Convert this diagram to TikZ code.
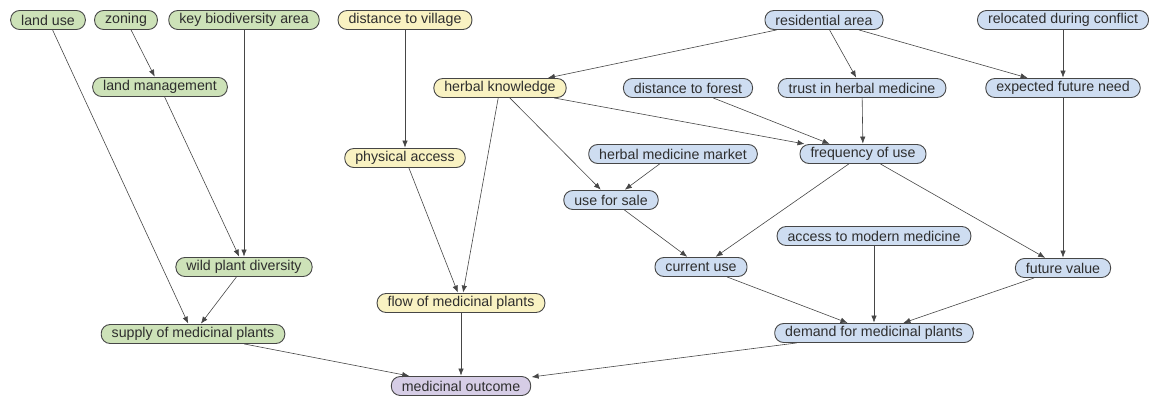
\documentclass[tikz,border=0pt]{standalone}
\usepackage{fontspec}
\setmainfont{Liberation Sans}
\usetikzlibrary{arrows.meta}
\definecolor{gfill}{HTML}{CDE2B8}
\definecolor{yfill}{HTML}{F9F2C2}
\definecolor{bfill}{HTML}{CEDDF1}
\definecolor{pfill}{HTML}{D6CDE6}
\definecolor{edgec}{HTML}{464646}
\begin{document}
\begin{tikzpicture}[x=1pt,y=-1pt,
  nd/.style={draw=edgec, line width=0.9pt, rounded corners=9pt, minimum height=19pt, inner xsep=10.5pt, inner ysep=1pt, font=\fontsize{14.2}{15}\selectfont, text=black!82},
  gn/.style={nd, fill=gfill},
  yn/.style={nd, fill=yfill},
  bn/.style={nd, fill=bfill},
  pn/.style={nd, fill=pfill},
  ar/.style={draw=edgec, line width=0.6pt, -{Latex[length=7pt,width=5.5pt]}, shorten >=0.5pt}]
\useasboundingbox (0,0) rectangle (1153,399);
% green
\node[gn] (landuse) at (48,20) {land use};
\node[gn] (zoning) at (126,20) {zoning};
\node[gn] (kba) at (244,20) {key biodiversity area};
\node[gn] (landman) at (160,87) {land management};
\node[gn] (wpd) at (244,267) {wild plant diversity};
\node[gn] (supply) at (193,334) {supply of medicinal plants};
% yellow
\node[yn] (dvillage) at (405,20) {distance to village};
\node[yn] (hk) at (500,88) {herbal knowledge};
\node[yn] (pa) at (405,158) {physical access};
\node[yn] (flow) at (461,303) {flow of medicinal plants};
% blue
\node[bn] (res) at (824,20) {residential area};
\node[bn] (reloc) at (1063,20) {relocated during conflict};
\node[bn] (dforest) at (688,88) {distance to forest};
\node[bn] (trust) at (862,88) {trust in herbal medicine};
\node[bn] (efn) at (1063,88) {expected future need};
\node[bn] (hmm) at (673,154) {herbal medicine market};
\node[bn] (freq) at (863,154) {frequency of use};
\node[bn] (sale) at (611,200) {use for sale};
\node[bn] (amm) at (874,236) {access to modern medicine};
\node[bn] (cur) at (701,267) {current use};
\node[bn] (fv) at (1063,268) {future value};
\node[bn] (demand) at (874,333) {demand for medicinal plants};
% purple
\node[pn] (outcome) at (461,386) {medicinal outcome};
% edges
\draw[ar] (landuse) -- (supply);
\draw[ar] (zoning) -- (landman);
\draw[ar] (kba) -- (wpd);
\draw[ar] (landman) -- (wpd);
\draw[ar] (wpd) -- (supply);
\draw[ar] (supply) -- (outcome);
\draw[ar] (dvillage) -- (pa);
\draw[ar] (pa) -- ([xshift=-3pt]flow.north);
\draw[ar] (hk) -- ([xshift=2pt]flow.north);
\draw[ar] (flow) -- (outcome);
\draw[ar] (res) -- (hk);
\draw[ar] (res) -- (trust);
\draw[ar] (res) -- (efn);
\draw[ar] (reloc) -- (efn);
\draw[ar] (hk) -- ([xshift=-58pt]freq.north);
\draw[ar] (hk) -- (sale);
\draw[ar] (dforest) -- ([xshift=-33pt]freq.north);
\draw[ar] (trust) -- (freq);
\draw[ar] (hmm) -- (sale);
\draw[ar] (freq) -- (cur);
\draw[ar] (freq) -- (fv);
\draw[ar] (sale) -- (cur);
\draw[ar] (efn) -- (fv);
\draw[ar] (amm) -- (demand);
\draw[ar] (cur) -- (demand);
\draw[ar] (fv) -- (demand);
\draw[ar] (demand) -- (outcome);
\end{tikzpicture}
\end{document}
